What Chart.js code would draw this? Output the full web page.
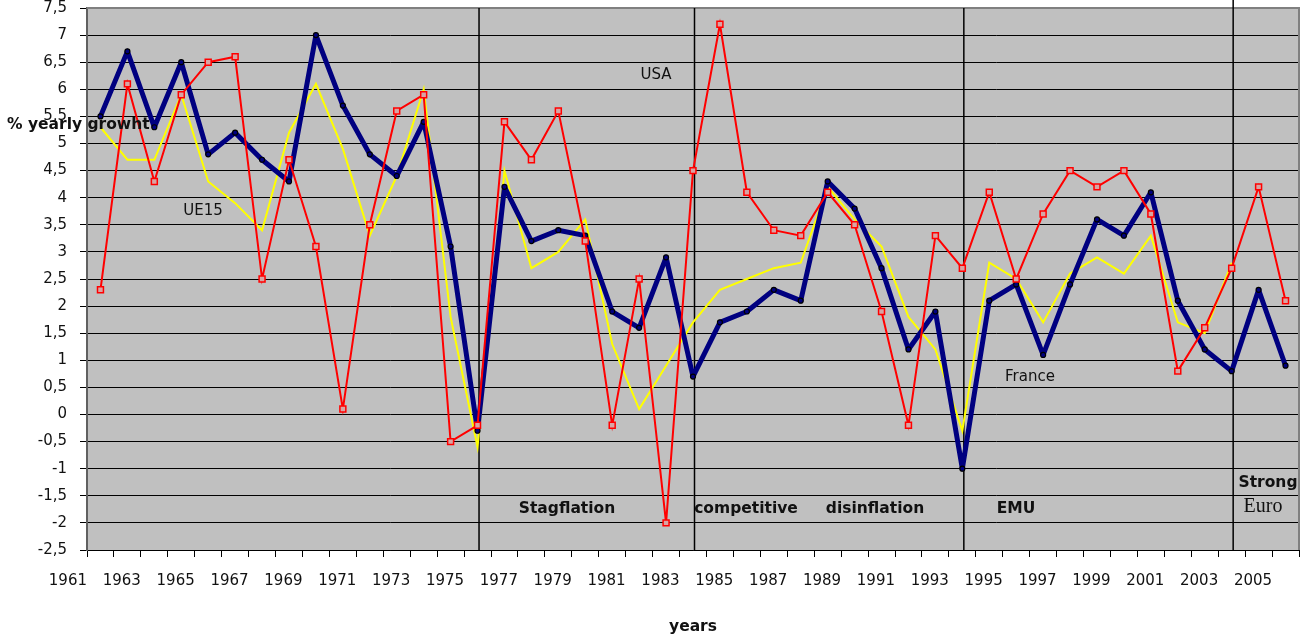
<!DOCTYPE html>
<html>
<head>
<meta charset="utf-8">
<script src="https://cdn.jsdelivr.net/npm/chart.js@4.4.1/dist/chart.umd.min.js"></script>
<style>
  body { margin: 0; background: #fff; }
  canvas { display: block; }
</style>
</head>
<body>
<canvas id="growthChart" width="1300" height="637"></canvas>
<script>
const years = ['1961','1962','1963','1964','1965','1966','1967','1968','1969','1970',
               '1971','1972','1973','1974','1975','1976','1977','1978','1979','1980',
               '1981','1982','1983','1984','1985','1986','1987','1988','1989','1990',
               '1991','1992','1993','1994','1995','1996','1997','1998','1999','2000',
               '2001','2002','2003','2004','2005'];

// only every other year gets a label on the axis
const xLabels = ['1961','1963','1965','1967','1969','1971','1973','1975','1977','1979','1981',
                 '1983','1985','1987','1989','1991','1993','1995','1997','1999','2001','2003','2005'];

const usa = [2.3, 6.1, 4.3, 5.9, 6.5, 6.6, 2.5, 4.7, 3.1, 0.1,
             3.5, 5.6, 5.9, -0.5, -0.2, 5.4, 4.7, 5.6, 3.2, -0.2,
             2.5, -2.0, 4.5, 7.2, 4.1, 3.4, 3.3, 4.1, 3.5, 1.9,
             -0.2, 3.3, 2.7, 4.1, 2.5, 3.7, 4.5, 4.2, 4.5, 3.7,
             0.8, 1.6, 2.7, 4.2, 2.1];

const france = [5.5, 6.7, 5.3, 6.5, 4.8, 5.2, 4.7, 4.3, 7.0, 5.7,
                4.8, 4.4, 5.4, 3.1, -0.3, 4.2, 3.2, 3.4, 3.3, 1.9,
                1.6, 2.9, 0.7, 1.7, 1.9, 2.3, 2.1, 4.3, 3.8, 2.7,
                1.2, 1.9, -1.0, 2.1, 2.4, 1.1, 2.4, 3.6, 3.3, 4.1,
                2.1, 1.2, 0.8, 2.3, 0.9];

const ue15 = [5.3, 4.7, 4.7, 5.9, 4.3, 3.9, 3.4, 5.2, 6.1, 4.9,
              3.3, 4.4, 6.0, 1.8, -0.6, 4.5, 2.7, 3.0, 3.6, 1.3,
              0.1, 0.9, 1.7, 2.3, 2.5, 2.7, 2.8, 4.2, 3.6, 3.1,
              1.8, 1.2, -0.3, 2.8, 2.5, 1.7, 2.6, 2.9, 2.6, 3.3,
              1.7, 1.5, 2.8, null, null];

const eraYears = ['1975', '1983', '1993', '2003'];

const ctx = document.getElementById('growthChart');

const chartExtras = {
  id: 'chartExtras',
  beforeDraw(chart) {
    const { ctx, chartArea: a } = chart;
    ctx.save();
    ctx.fillStyle = '#c0c0c0';
    ctx.fillRect(a.left, a.top, a.right - a.left, a.bottom - a.top);
    ctx.restore();
  },
  beforeDatasetsDraw(chart) {
    const { ctx, chartArea: a, scales } = chart;
    ctx.save();
    // top and right frame
    ctx.strokeStyle = '#808080';
    ctx.lineWidth = 2;
    ctx.beginPath();
    ctx.moveTo(a.left, a.top);
    ctx.lineTo(a.right, a.top);
    ctx.lineTo(a.right, a.bottom);
    ctx.stroke();
    // period separators
    ctx.strokeStyle = '#000';
    ctx.lineWidth = 1.5;
    eraYears.forEach((y, i) => {
      const x = scales.x.getPixelForValue(years.indexOf(y)) + 1.5;
      ctx.beginPath();
      ctx.moveTo(x, i === eraYears.length - 1 ? 0 : a.top);
      ctx.lineTo(x, a.bottom);
      ctx.stroke();
    });
    ctx.restore();
  },
  afterDraw(chart) {
    const c = chart.ctx;
    const plain = '15px "DejaVu Sans"';
    const bold = 'bold 15.5px "DejaVu Sans"';
    const notes = [
      ['USA', 656, 75, plain],
      ['UE15', 203, 211, plain],
      ['France', 1030, 377, plain],
      ['Stagflation', 567, 509, bold],
      ['competitive', 746, 509, bold],
      ['disinflation', 875, 509, bold],
      ['EMU', 1016, 509, bold],
      ['Strong', 1268, 483, bold],
      ['Euro', 1263, 507, '20px "Liberation Serif"']
    ];
    c.save();
    c.fillStyle = '#111';
    c.textAlign = 'center';
    c.textBaseline = 'middle';
    notes.forEach(n => {
      c.font = n[3];
      c.fillText(n[0], n[1], n[2]);
    });
    c.textAlign = 'left';
    c.font = bold;
    c.fillText('% yearly growht', 7, 125);
    c.restore();
  }
};

Chart.defaults.font.family = '"DejaVu Sans", Verdana, sans-serif';

new Chart(ctx, {
  type: 'line',
  data: {
    labels: years,
    datasets: [{
      label: 'USA',
      data: usa,
      borderColor: '#ff0000',
      borderWidth: 2,
      pointStyle: 'rect',
      pointRadius: 4.2,
      pointBorderWidth: 1.5,
      pointBorderColor: '#ff0000',
      pointBackgroundColor: '#d8a4a4',
      tension: 0
    }, {
      label: 'France',
      data: france,
      borderColor: '#000080',
      borderWidth: 5,
      borderJoinStyle: 'round',
      pointRadius: 2.5,
      pointBorderWidth: 1.2,
      pointBorderColor: '#000',
      pointBackgroundColor: '#000080',
      tension: 0
    }, {
      label: 'UE15',
      data: ue15,
      borderColor: '#ffff00',
      borderWidth: 2,
      pointRadius: 0,
      tension: 0
    }]
  },
  options: {
    responsive: false,
    animation: false,
    events: [],
    layout: { autoPadding: false, padding: { left: 7, right: 1, top: 8, bottom: 0 } },
    plugins: {
      legend: { display: false },
      tooltip: { enabled: false }
    },
    scales: {
      x: {
        type: 'category',
        offset: true,
        grid: { offset: true, drawOnChartArea: false, drawTicks: true, tickLength: 7, color: '#000' },
        border: { color: '#000', width: 1 },
        ticks: {
          autoSkip: false,
          maxRotation: 0,
          minRotation: 0,
          align: 'end',
          labelOffset: -13.47,
          padding: 15,
          color: '#111',
          font: { size: 15 },
          callback: (v, i) => xLabels.includes(years[i]) ? years[i] : ''
        },
        title: {
          display: true,
          text: 'years',
          color: '#111',
          font: { size: 15.5, weight: 'bold' },
          padding: { top: 0, bottom: 1 }
        },
        afterFit: s => {
          s.height = 87;
          s.paddingLeft = 0;
          s.paddingRight = 0;
        }
      },
      y: {
        min: -2.5,
        max: 7.5,
        grid: { color: '#000', lineWidth: 1, tickLength: 7 },
        border: { color: '#606060', width: 2 },
        ticks: {
          stepSize: 0.5,
          padding: 13,
          color: '#111',
          font: { size: 15 },
          callback: v => String(v).replace('.', ',')
        },
        afterFit: s => {
          s.width = 80;
          s.paddingTop = 0;
          s.paddingBottom = 0;
        }
      }
    }
  },
  plugins: [chartExtras]
});
</script>
</body>
</html>
